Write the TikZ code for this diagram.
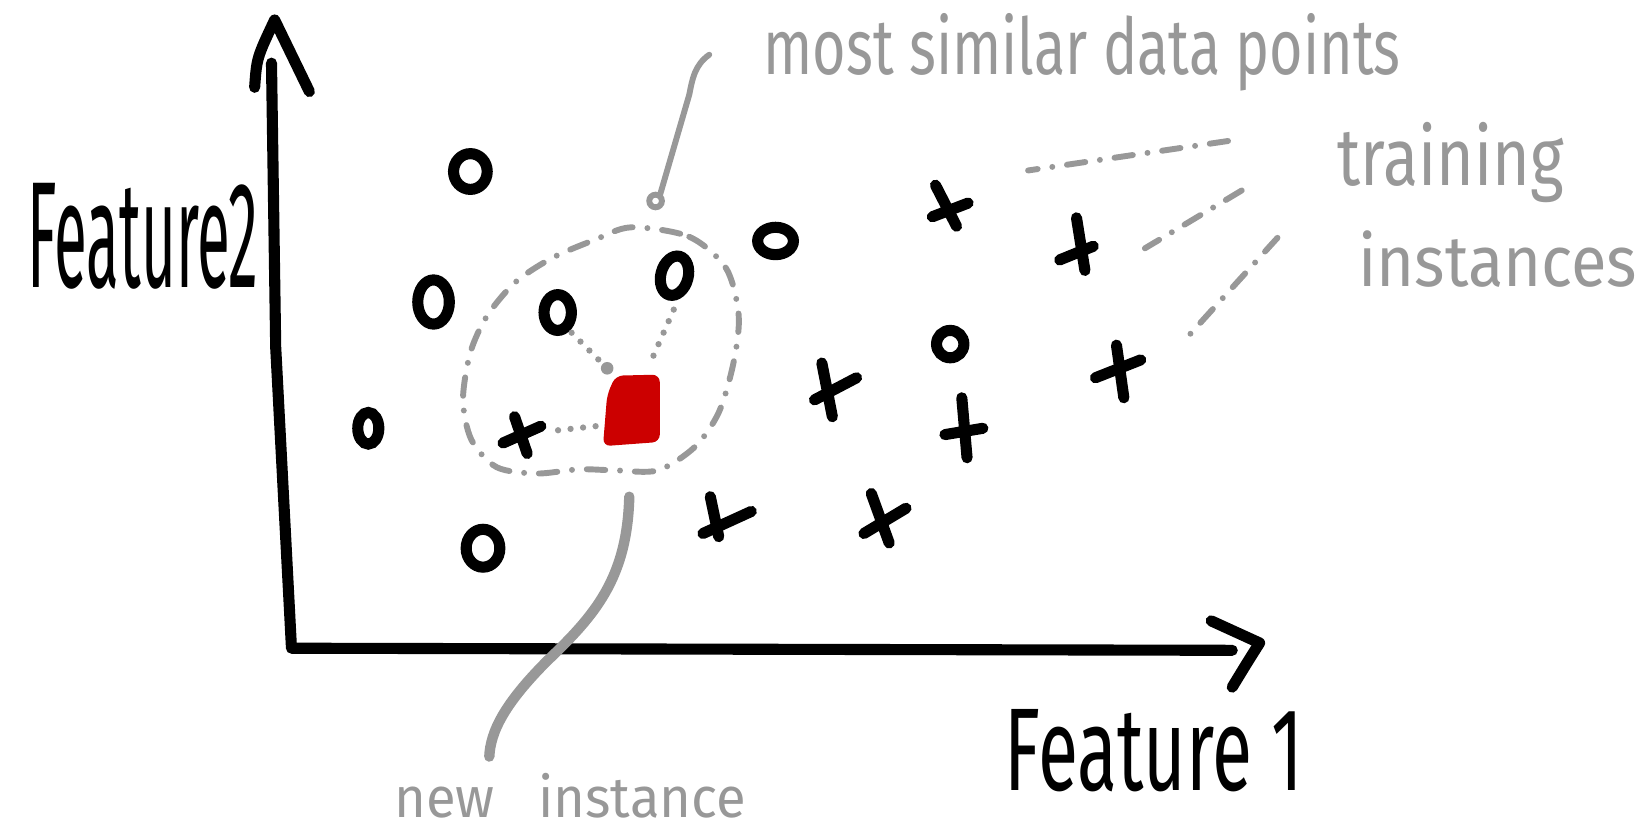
\documentclass[tikz,border=0pt]{standalone}
\usepackage{fontspec}
\setmainfont{Fira Sans}
\usepackage{graphicx}
\usepackage{xcolor}
\usetikzlibrary{calc}
\definecolor{notegray}{RGB}{152,152,152}
\definecolor{queryred}{RGB}{204,0,0}

\begin{document}
\begin{tikzpicture}[x=0.01cm, y=-0.01cm,
    axisline/.style={line width=3pt, line cap=round, line join=round},
    markline/.style={line width=3pt, line cap=round},
    noteline/.style={notegray, line width=1.6pt, line cap=round},
    notedash/.style={notegray, line width=1.6pt, line cap=round, dash pattern=on 5pt off 4pt on 0pt off 4pt},
    notedots/.style={notegray, line width=1.7pt, line cap=round, dash pattern=on 0pt off 3.4pt},
    label/.style={anchor=base west, inner sep=0pt}]
    \useasboundingbox (0,0) rectangle (1568,788);

    % axes
    \coordinate (ytop) at (258,60);
    \coordinate (origin) at (277,616);
    \coordinate (xend) at (1171,618);
    \draw[axisline] (ytop) -- (262,330) -- (origin) -- (xend);
    \draw[axisline] (242,83) .. controls (244,55) .. (261,19) -- (294,87);
    \draw[axisline] (1151,590) -- (1197,611) .. controls (1185,630) .. (1171,653);

    \node[label] (feat2) at (25,273) {\resizebox{2.2cm}{0.99cm}{Feature2}};
    \node[label] (feat1) at (954,751) {\resizebox{2.84cm}{0.77cm}{Feature 1}};

    % training instances: o
    \coordinate (o1) at (447,163);
    \coordinate (o2) at (412,287);
    \coordinate (o3) at (530,297);
    \coordinate (o4) at (641,262);
    \coordinate (o5) at (737,229);
    \coordinate (o6) at (350,407);
    \coordinate (o7) at (459,521);
    \coordinate (o8) at (903,327);
    \draw[markline] (o1) ellipse [x radius=16, y radius=17];
    \draw[markline] (o2) ellipse [x radius=15, y radius=21];
    \draw[markline] (o3) ellipse [x radius=13, y radius=17];
    \draw[markline, rotate around={-15:(o4)}] (o4) ellipse [x radius=13, y radius=19];
    \draw[markline] (o5) ellipse [x radius=17, y radius=13];
    \draw[markline] (o6) ellipse [x radius=10, y radius=15];
    \draw[markline] (o7) ellipse [x radius=16, y radius=18];
    \draw[markline] (o8) ellipse [x radius=13, y radius=13];

    % training instances: +
    \coordinate (p1) at (903,195);
    \coordinate (p2) at (1025,235);
    \coordinate (p3) at (795,372);
    \coordinate (p4) at (1064,355);
    \coordinate (p5) at (916,410);
    \coordinate (p6) at (496,414);
    \coordinate (p7) at (690,492);
    \coordinate (p8) at (838,493);
    \draw[markline] (889,176) -- (909,215) (886,206) -- (920,193);
    \draw[markline] (1023,207) -- (1031,257) (1007,247) -- (1039,234);
    \draw[markline] (781,345) -- (791,396) (774,380) -- (814,359);
    \draw[markline] (1061,328) -- (1068,378) (1041,359) -- (1084,342);
    \draw[markline] (914,378) -- (919,435) (898,413) -- (934,407);
    \draw[markline] (489,396) -- (501,431) (478,421) -- (514,405);
    \draw[markline] (675,472) -- (683,510) (668,507) -- (714,486);
    \draw[markline] (828,469) -- (845,516) (821,507) -- (861,483);

    % new instance
    \coordinate (query) at (600,390);
    \fill[queryred, rounded corners=2pt] (585,357) -- (627,356) -- (627,420) -- (573,424) -- (577,375) -- cycle;
    \coordinate (qdot) at (577,350);
    \fill[notegray] (qdot) circle [radius=6];

    % neighbourhood
    \draw[notedash] plot[smooth cycle] coordinates {(600,216) (655,225) (690,255) (702,300) (697,345) (683,392) (660,425) (625,447) (585,447) (550,446) (510,450) (472,444) (448,418) (440,380) (447,335) (463,300) (490,268) (525,245) (565,228)};
    \draw[notedots] (qdot) -- (540,313);
    \draw[notedots] (621,338) -- (643,288);
    \draw[notedots] (566,405) -- (520,410);

    % notes
    \node[label, text=notegray] (similar) at (725,71) {\resizebox{6.05cm}{0.58cm}{most similar data points}};
    \coordinate (simtail) at (674,52);
    \coordinate (simend) at (627,186);
    \draw[noteline] (simtail) .. controls (660,62) and (658,75) .. (655,90) -- (simend);
    \draw[noteline] (623,191) circle [radius=6];

    \node[label, text=notegray] (training) at (1270,176) {\resizebox{2.15cm}{0.6cm}{training}};
    \node[label, text=notegray] (instances) at (1290,272) {\resizebox{2.65cm}{0.53cm}{instances}};
    \coordinate (tr1) at (1167,134);
    \coordinate (tr2) at (1180,181);
    \coordinate (tr3) at (1214,226);
    \draw[notedash] (tr1) -- (977,162);
    \draw[notedash] (tr2) -- (1088,236);
    \draw[notedash] (tr3) -- (1126,323);

    \node[label, text=notegray] (newinst) at (374,777) {\resizebox{3.34cm}{0.42cm}{new\hspace{0.8em}instance}};
    \coordinate (newtop) at (598,472);
    \coordinate (newend) at (465,719);
    \draw[notegray, line width=2.8pt, line cap=round] (newtop) .. controls (596,550) and (565,585) .. (520,628) .. controls (480,668) and (466,695) .. (newend);
\end{tikzpicture}
\end{document}
